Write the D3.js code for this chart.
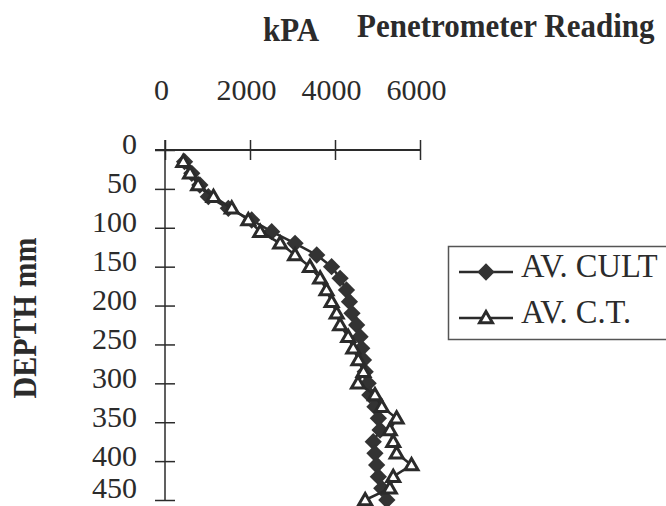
<!DOCTYPE html>
<html>
<head>
<meta charset="utf-8">
<script src="https://cdn.jsdelivr.net/npm/d3@7"></script>
<style>
  body { margin: 0; background: #fff; }
  svg { display: block; font-family: "Liberation Serif", "Times New Roman", serif; }
</style>
</head>
<body>
<svg id="chart"></svg>
<script>
// depth readings (mm), every 15 mm
const depths = [15, 30, 45, 60, 75, 90, 105, 120, 135, 150, 165, 180, 195, 210, 225,
  240, 255, 270, 285, 300, 315, 330, 345, 360, 375, 390, 405, 420, 435, 450];
// penetrometer reading kPa
const avCult = [460, 630, 820, 1020, 1490, 2040, 2510, 3060, 3570, 3920, 4120, 4270, 4340, 4400, 4510,
  4590, 4630, 4670, 4710, 4780, 4820, 4940, 5020, 5060, 4900, 4940, 4980, 5020, 5100, 5220];
const avCT = [430, 590, 780, 1140, 1570, 1960, 2240, 2710, 3060, 3410, 3650, 3800, 3920, 4040, 4120,
  4310, 4430, 4550, 4670, 4540, 4940, 5100, 5450, 5290, 5370, 5450, 5800, 5370, 5290, 4710];
const xTicks = [0, 2000, 4000, 6000];
const yTicks = [0, 50, 100, 150, 200, 250, 300, 350, 400, 450];
const seriesNames = ["AV. CULT", "AV. C.T."];

const width = 666, height = 506;
const ink = "#2b2b2b";

const svg = d3.select("#chart").attr("width", width).attr("height", height);

const x = d3.scaleLinear().domain([0, 6000]).range([165, 420]);
const y = d3.scaleLinear().domain([0, 450]).range([150, 500]);

// x axis along the top
const xAxis = svg.append("g")
  .attr("transform", `translate(0,${y(0)})`)
  .call(d3.axisTop(x).tickValues(xTicks).tickFormat(d3.format("d")).tickSize(10).tickSizeOuter(0));
xAxis.select(".domain").remove();
xAxis.selectAll(".tick line").attr("y1", 10).attr("stroke", ink).attr("stroke-width", 1.5);
xAxis.selectAll(".tick text")
  .attr("y", -50).attr("dx", -4)
  .attr("font-size", 30).attr("font-family", "Liberation Serif").attr("fill", ink);
svg.append("line")
  .attr("x1", x(0) - 10).attr("x2", x(6000))
  .attr("y1", y(0)).attr("y2", y(0))
  .attr("stroke", ink).attr("stroke-width", 2);

// y axis
const yAxis = svg.append("g")
  .attr("transform", `translate(${x(0)},0)`)
  .call(d3.axisLeft(y).tickValues(yTicks).tickFormat(d3.format("d")).tickSize(10).tickSizeOuter(0));
yAxis.select(".domain").remove();
yAxis.selectAll(".tick line").attr("x1", 10).attr("stroke", ink).attr("stroke-width", 1.5);
yAxis.selectAll(".tick text")
  .attr("x", -28).attr("dy", d => d === 450 ? "-0.07em" : "0.13em")
  .attr("font-size", 30).attr("font-family", "Liberation Serif").attr("fill", ink);
svg.append("line")
  .attr("x1", x(0)).attr("x2", x(0))
  .attr("y1", y(0) - 10).attr("y2", y(450))
  .attr("stroke", ink).attr("stroke-width", 1.5);

// titles
svg.append("text").attr("transform", "translate(263,41) scale(1,1.12)")
  .attr("font-size", 31).attr("font-weight", "bold").attr("fill", ink).text("kPA");
svg.append("text").attr("transform", "translate(357,37) scale(1,1.12)")
  .attr("font-size", 31).attr("font-weight", "bold").attr("fill", ink).text("Penetrometer Reading");
svg.append("text")
  .attr("transform", "translate(36,318) rotate(-90) scale(1,1.12)")
  .attr("text-anchor", "middle")
  .attr("font-size", 30).attr("font-weight", "bold").attr("fill", ink).text("DEPTH mm");

// series
const line = d3.line().x(d => x(d[1])).y(d => y(d[0]));
const cultData = depths.map((d, i) => [d, avCult[i]]);
const ctData = depths.map((d, i) => [d, avCT[i]]);

const diamond = d3.symbol().type(d3.symbolDiamond2).size(190);
const triangle = d3.symbol().type(d3.symbolTriangle2).size(120);

const plot = svg.append("g");
plot.append("path").datum(cultData).attr("d", line)
  .attr("fill", "none").attr("stroke", ink).attr("stroke-width", 2.5);
plot.selectAll(".cult").data(cultData).enter().append("path")
  .attr("class", "cult")
  .attr("transform", d => `translate(${x(d[1])},${y(d[0])})`)
  .attr("d", diamond).attr("fill", "#333");

plot.append("path").datum(ctData).attr("d", line)
  .attr("fill", "none").attr("stroke", ink).attr("stroke-width", 2.5);
plot.selectAll(".ct").data(ctData).enter().append("path")
  .attr("class", "ct")
  .attr("transform", d => `translate(${x(d[1])},${y(d[0]) + 1})`)
  .attr("d", triangle).attr("fill", "#fff").attr("stroke", ink).attr("stroke-width", 3);

// legend
const legend = svg.append("g");
legend.append("rect").attr("x", 448.5).attr("y", 246.5).attr("width", 260).attr("height", 93)
  .attr("fill", "#fff").attr("stroke", "#555").attr("stroke-width", 1.5);
const legendY = [272, 318];
seriesNames.forEach((name, i) => {
  const g = legend.append("g").attr("transform", `translate(0,${legendY[i]})`);
  g.append("line").attr("x1", 459).attr("x2", 513).attr("stroke", ink).attr("stroke-width", 2.5);
  if (i === 0) {
    g.append("path").attr("transform", "translate(486,0)").attr("d", diamond).attr("fill", "#333");
  } else {
    g.append("path").attr("transform", "translate(486,1)").attr("d", triangle)
      .attr("fill", "#fff").attr("stroke", ink).attr("stroke-width", 3);
  }
  g.append("text").attr("transform", "translate(521,4.5) scale(1,1.05)")
    .attr("font-size", 32.5).attr("fill", ink).text(name);
});
</script>
</body>
</html>
